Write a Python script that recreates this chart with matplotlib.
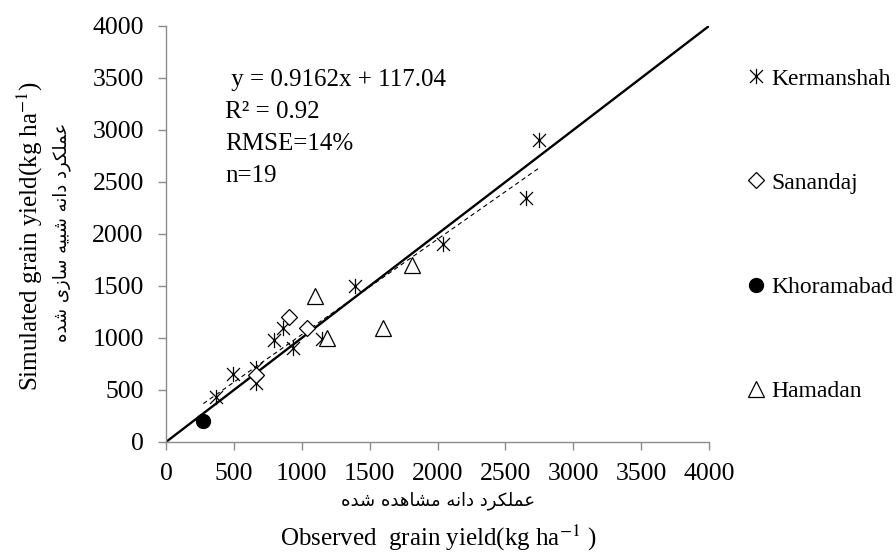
import matplotlib.pyplot as plt
from matplotlib.path import Path
from matplotlib.lines import Line2D

# observed vs simulated grain yield (kg/ha), one pair of lists per site
kerm_obs = [370, 490, 660, 660, 795, 865, 935, 1150, 1395, 2040, 2650, 2750]
kerm_sim = [430, 650, 715, 570, 985, 1095, 900, 995, 1500, 1900, 2350, 2900]
sanan_obs = [905, 1040, 660]
sanan_sim = [1200, 1100, 640]
khor_obs = [275]
khor_sim = [200]
hamad_obs = [1095, 1185, 1600, 1810]
hamad_sim = [1400, 1000, 1100, 1700]

SITES = ["Kermanshah", "Sanandaj", "Khoramabad", "Hamadan"]
TICKS = [0, 500, 1000, 1500, 2000, 2500, 3000, 3500, 4000]

# fitted line shown on the chart
SLOPE = 0.9162
INTERCEPT = 117.04
STATS = [" y = 0.9162x + 117.04", "R\u00b2 = 0.92", "RMSE=14%", "n=19"]

X_LABEL_FA = "عملکرد دانه مشاهده شده"
Y_LABEL_FA = "عملکرد دانه شبیه سازی شده"

# presentation forms: isolated, final, initial, medial (None = no left join)
FORMS = {
    "ع": (0xFEC9, 0xFECA, 0xFECB, 0xFECC),
    "م": (0xFEE1, 0xFEE2, 0xFEE3, 0xFEE4),
    "ل": (0xFEDD, 0xFEDE, 0xFEDF, 0xFEE0),
    "ک": (0xFB8E, 0xFB8F, 0xFB90, 0xFB91),
    "ن": (0xFEE5, 0xFEE6, 0xFEE7, 0xFEE8),
    "ه": (0xFEE9, 0xFEEA, 0xFEEB, 0xFEEC),
    "ش": (0xFEB5, 0xFEB6, 0xFEB7, 0xFEB8),
    "ب": (0xFE8F, 0xFE90, 0xFE91, 0xFE92),
    "ی": (0xFBFC, 0xFBFD, 0xFBFE, 0xFBFF),
    "س": (0xFEB1, 0xFEB2, 0xFEB3, 0xFEB4),
    "ر": (0xFEAD, 0xFEAE, None, None),
    "د": (0xFEA9, 0xFEAA, None, None),
    "ا": (0xFE8D, 0xFE8E, None, None),
    "ز": (0xFEAF, 0xFEB0, None, None),
}


def shape_fa(text):
    # join the letters by hand and flip to visual order
    out = []
    for i, ch in enumerate(text):
        if ch not in FORMS:
            out.append(ch)
            continue
        prev = text[i - 1] if i > 0 else " "
        nxt = text[i + 1] if i + 1 < len(text) else " "
        joins_prev = prev in FORMS and FORMS[prev][2] is not None
        joins_next = FORMS[ch][2] is not None and nxt in FORMS
        if joins_prev and joins_next:
            code = FORMS[ch][3]
        elif joins_prev:
            code = FORMS[ch][1]
        elif joins_next:
            code = FORMS[ch][2]
        else:
            code = FORMS[ch][0]
        out.append(chr(code))
    return "".join(reversed(out))


def main():
    plt.rcParams["font.family"] = ["Liberation Serif", "DejaVu Sans"]
    plt.rcParams["mathtext.fontset"] = "stix"

    star = Path([(0, -1), (0, 1), (-0.85, -0.85), (0.85, 0.85), (-0.85, 0.85), (0.85, -0.85)],
                [Path.MOVETO, Path.LINETO, Path.MOVETO, Path.LINETO, Path.MOVETO, Path.LINETO])

    W, H = 896, 553
    fig = plt.figure(figsize=(W / 100, H / 100), dpi=100)
    ax = fig.add_axes([166 / W, (H - 442) / H, 543 / W, 416 / H])

    # 1:1 line and the fitted trend
    ax.plot([0, 4000], [0, 4000], color="black", lw=1.7, zorder=2)
    all_obs = kerm_obs + sanan_obs + khor_obs + hamad_obs
    x0, x1 = min(all_obs), max(all_obs)
    ax.plot([x0, x1], [SLOPE * x0 + INTERCEPT, SLOPE * x1 + INTERCEPT],
            color="black", lw=0.8, ls=(0, (4, 3)), zorder=2)

    ax.plot(kerm_obs, kerm_sim, ls="none", marker=star, ms=11, mec="black", mew=0.9, zorder=3)
    ax.plot(sanan_obs, sanan_sim, ls="none", marker="D", ms=8, mfc="white", mec="black", mew=0.9, zorder=3)
    ax.plot(khor_obs, khor_sim, ls="none", marker="o", ms=10, mfc="black", mec="black", zorder=3)
    ax.plot(hamad_obs, hamad_sim, ls="none", marker="^", ms=12, mfc="white", mec="black", mew=0.9, zorder=3)

    ax.set_xlim(0, 4000)
    ax.set_ylim(0, 4000)
    ax.set_xticks(TICKS)
    ax.set_yticks(TICKS)
    for side in ["top", "right"]:
        ax.spines[side].set_visible(False)
    for side in ["left", "bottom"]:
        ax.spines[side].set_color("#8c8c8c")
        ax.spines[side].set_linewidth(1.0)
    ax.tick_params(direction="out", length=6, width=1.0, color="#8c8c8c", labelsize=18.5)
    ax.tick_params(axis="x", pad=9)
    ax.tick_params(axis="y", pad=10)

    # regression box
    for i, line in enumerate(STATS):
        fig.text(225 / W, 1 - (80 + i * 32) / H, line, fontsize=18, va="center", ha="left")

    # axis titles (English + Persian)
    fig.text(438 / W, 1 - 501 / H, shape_fa(X_LABEL_FA), family="DejaVu Sans",
             fontsize=13, ha="center", va="center")
    fig.text(438 / W, 1 - 538 / H, "Observed  grain yield(kg ha$^{-1}$ )",
             fontsize=18, ha="center", va="center")
    fig.text(30 / W, 1 - 236 / H, "Simulated grain yield(kg ha$^{-1}$)",
             fontsize=18, ha="center", va="center", rotation=90)
    fig.text(62 / W, 1 - 232 / H, shape_fa(Y_LABEL_FA), family="DejaVu Sans",
             fontsize=13, ha="center", va="center", rotation=90)

    handles = [
        Line2D([], [], ls="none", marker=star, ms=11, mec="black", mew=0.9),
        Line2D([], [], ls="none", marker="D", ms=8, mfc="white", mec="black", mew=0.9),
        Line2D([], [], ls="none", marker="o", ms=10, mfc="black", mec="black"),
        Line2D([], [], ls="none", marker="^", ms=12, mfc="white", mec="black", mew=0.9),
    ]
    fig.legend(handles, SITES, loc="upper left", bbox_to_anchor=(748 / W, 1 - 68 / H),
               frameon=False, fontsize=17, handlelength=0.7, handletextpad=0.3,
               labelspacing=3.5, borderpad=0, borderaxespad=0)

    fig.savefig("out.png", dpi=100)


if __name__ == "__main__":
    main()
